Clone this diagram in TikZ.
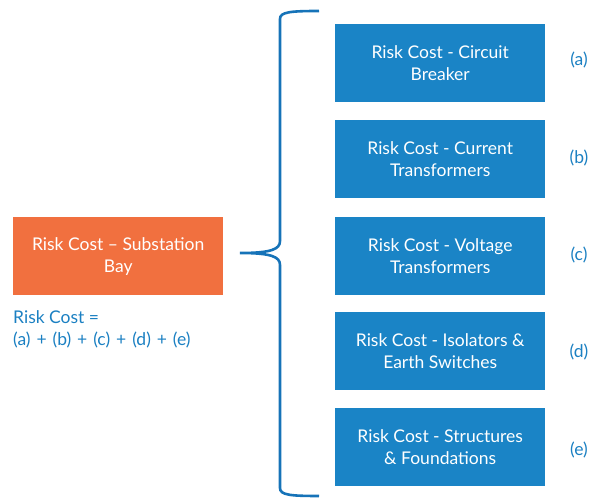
\documentclass[tikz,border=0pt]{standalone}
\usepackage{fontspec}
\setmainfont{Lato}
\definecolor{boxblue}{HTML}{1A84C6}
\definecolor{boxorange}{HTML}{F1703F}
\definecolor{braceblue}{HTML}{1673B8}
\definecolor{textblue}{HTML}{1B80C2}
\newcommand{\widesp}{\spaceskip=0.34em plus 0.1em\relax}
\begin{document}
\begin{tikzpicture}[x=1pt,y=1pt,
  txt/.style={font=\fontsize{17.5}{22}\selectfont},
  bluebox/.style={fill=boxblue, text=white, minimum width=210pt, minimum height=78pt, inner sep=0pt, align=center, txt, anchor=north west},
  orangebox/.style={fill=boxorange, text=white, minimum width=210pt, minimum height=78pt, inner sep=0pt, align=center, txt, anchor=north west},
  lbl/.style={text=textblue, txt, inner sep=0pt}
]
\useasboundingbox (0,0) rectangle (590,498);
\node[orangebox] (bay) at (13,281) {Risk Cost -- Substation\\Bay};
\node[bluebox] (a) at (335,474) {Risk Cost - Circuit\\Breaker};
\node[bluebox] (b) at (335,378) {Risk Cost - Current\\Transformers};
\node[bluebox] (c) at (335,281) {Risk Cost - Voltage\\Transformers};
\node[bluebox] (d) at (335,186) {Risk Cost - Isolators \&\\Earth Switches};
\node[bluebox] (e) at (335,90) {Risk Cost - Structures\\\& Foundations};
\node[lbl] (la) at (579,438) {(a)};
\node[lbl] (lb) at (579,340) {(b)};
\node[lbl] (lc) at (579,243) {(c)};
\node[lbl] (ld) at (579,146) {(d)};
\node[lbl] (le) at (579,48) {(e)};
\node[lbl, align=left, anchor=north west] (sum) at (13,188) {Risk Cost =\\\widesp(a) + (b) + (c) + (d) + (e)};
\coordinate (tip) at (240,245);
\coordinate (top) at (319,487);
\coordinate (bot) at (319,2);
\draw[braceblue, line width=2.6pt]
  (top) .. controls (290,487) and (280,486) .. (280,479)
  -- (280,257) .. controls (280,249) and (272,245) .. (tip)
  .. controls (272,245) and (280,241) .. (280,233)
  -- (280,10) .. controls (280,3) and (290,2) .. (bot);
\end{tikzpicture}
\end{document}
